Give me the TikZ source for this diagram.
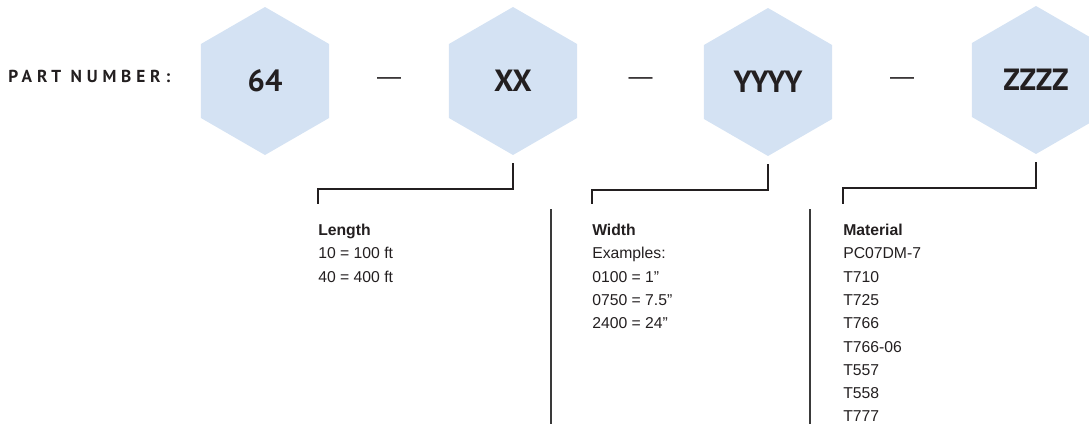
\documentclass[tikz,border=0pt]{standalone}
\usepackage{fontspec}
\setmainfont{Liberation Sans}
\newfontfamily\hexfont{PT Sans}
\usetikzlibrary{shapes.geometric, positioning, calc}
\definecolor{hexfill}{HTML}{D4E2F3}
\definecolor{ink}{HTML}{231F20}
\definecolor{rulegray}{HTML}{3A3A3A}

\begin{document}
\begin{tikzpicture}[x=0.75pt, y=-0.75pt, text=ink,
    font=\fontsize{11.8}{17.45}\selectfont,
    hex/.style={regular polygon, regular polygon sides=6, shape border rotate=30,
      fill=hexfill, minimum size=111pt, inner sep=0pt, font=\hexfont\fontsize{23}{23}\selectfont\bfseries},
    sepdash/.style={font=\fontsize{18}{18}\selectfont, inner sep=0pt},
    brack/.style={draw=ink, line width=1.5pt},
    info/.style={anchor=north west, align=left, inner sep=0pt},
    divider/.style={draw=rulegray, line width=0.8pt}]
  \useasboundingbox (0,0) rectangle (1089,425);

  % the four code fields
  \node[font=\hexfont\fontsize{13}{13}\selectfont\bfseries\addfontfeature{LetterSpace=28}, anchor=west, inner sep=0pt]
    (label) at (8,76) {PART NUMBER:};
  \node[hex] (h64)   at (265,81)  {64};
  \node[hex] (hxx)   at (513,81)  {XX};
  \node[hex] (hyyyy) at (768,82)  {YYYY};
  \node[hex] (hzzzz) at (1036,80) {ZZZZ};

  \node[sepdash] (d1) at ($(h64)!0.5!(hxx)$)     {—};
  \node[sepdash] (d2) at ($(hxx)!0.5!(hyyyy)$)   {—};
  \node[sepdash] (d3) at ($(hyyyy)!0.5!(hzzzz)$) {—};

  % what each field means
  \node[info] (len) at (318,224) {\textbf{Length}\\10 = 100 ft\\40 = 400 ft};
  \node[info] (wid) at (592,224) {\textbf{Width}\\Examples:\\0100 = 1”\\0750 = 7.5”\\2400 = 24”};
  \node[info] (mat) at (843,224) {\textbf{Material}\\PC07DM-7\\T710\\T725\\T766\\T766-06\\T557\\T558\\T777};

  \draw[brack] ($(hxx.south)+(0,8)$)   -- ++(0,26) -| ($(len.north west)+(0,-20)$);
  \draw[brack] ($(hyyyy.south)+(0,8)$) -- ++(0,26) -| ($(wid.north west)+(0,-20)$);
  \draw[brack] ($(hzzzz.south)+(0,8)$) -- ++(0,26) -| ($(mat.north west)+(0,-20)$);

  \draw[divider] (551,209) -- (551,424);
  \draw[divider] (810,209) -- (810,424);
\end{tikzpicture}
\end{document}
